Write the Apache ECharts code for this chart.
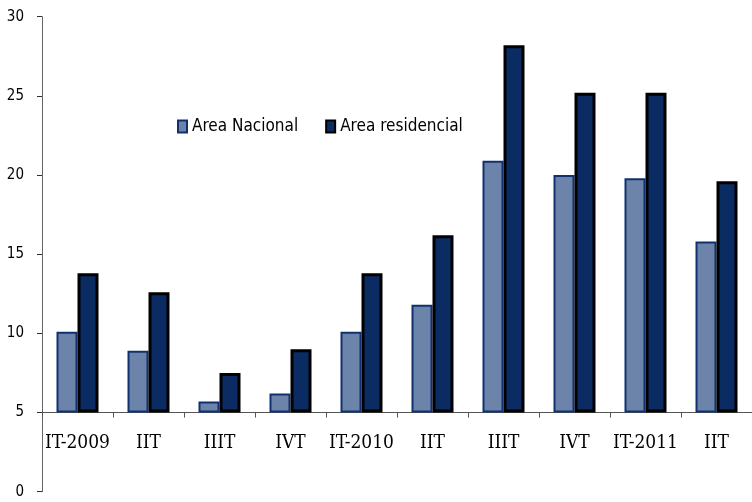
<!DOCTYPE html>
<html><head><meta charset="utf-8">
<script src="https://cdn.jsdelivr.net/npm/echarts@6/dist/echarts.min.js"></script>
<style>html,body{margin:0;padding:0;background:#fff}#c{width:752px;height:502px}</style>
</head><body><div id="c"></div>
<script>
const categories = ['IT-2009','IIT','IIIT','IVT','IT-2010','IIT','IIIT','IVT','IT-2011','IIT'];
const areaNacional = [10.1, 8.9, 5.7, 6.2, 10.1, 11.8, 20.9, 20.0, 19.8, 15.8];
const areaResidencial = [13.8, 12.6, 7.5, 9.0, 13.8, 16.2, 28.2, 25.2, 25.2, 19.6];
const baseline = 5;
const yTicks = [0, 5, 10, 15, 20, 25, 30];

const sansC = "'DejaVu Sans Condensed','DejaVu Sans',sans-serif";
const serifC = "'DejaVu Serif Condensed','DejaVu Serif',serif";
const gridTop = 16.7, gridBottom = 10.3, H = 502;
const gridH = H - gridTop - gridBottom;
const yMin = yTicks[0], yMax = yTicks[yTicks.length - 1];
const axisOffset = -gridH * (baseline - yMin) / (yMax - yMin);

const chart = echarts.init(document.getElementById('c'), null, {renderer: 'canvas'});
const base = categories.map(() => baseline);
chart.setOption({
  animation: false,
  grid: {left: 42, right: 0, top: gridTop, bottom: gridBottom, containLabel: false},
  legend: {
    data: ['Area Nacional', 'Area residencial'],
    left: 172, top: 113, icon: 'rect', itemWidth: 9, itemHeight: 12, itemGap: 27,
    textStyle: {fontFamily: sansC, fontSize: 17, color: '#000'},
    itemStyle: {borderWidth: 2}
  },
  xAxis: {
    type: 'category', data: categories, offset: axisOffset,
    axisLine: {onZero: false, lineStyle: {color: '#555', width: 1}},
    axisTick: {show: true, length: 5, lineStyle: {color: '#555'}},
    axisLabel: {fontFamily: serifC, fontSize: 19, color: '#000', margin: 21, interval: 0}
  },
  yAxis: {
    type: 'value', min: yMin, max: yMax, interval: 5,
    splitLine: {show: false},
    axisLine: {show: true, lineStyle: {color: '#666', width: 1}},
    axisTick: {show: true, length: 5, lineStyle: {color: '#333'}},
    axisLabel: {fontFamily: sansC, fontSize: 15, color: '#000', margin: 18}
  },
  series: [
    {name: 'baseN', type: 'bar', stack: 'n', data: base, barWidth: 21, barGap: '0%',
     itemStyle: {color: 'transparent'}, silent: true},
    {name: 'Area Nacional', type: 'bar', stack: 'n', barWidth: 21, barGap: '0%',
     data: areaNacional.map(v => +(v - baseline).toFixed(2)),
     itemStyle: {color: '#6d84aa', borderColor: '#103070', borderWidth: 2}},
    {name: 'baseR', type: 'bar', stack: 'r', data: base, barWidth: 21, barGap: '0%',
     itemStyle: {color: 'transparent'}, silent: true},
    {name: 'Area residencial', type: 'bar', stack: 'r', barWidth: 21, barGap: '0%',
     data: areaResidencial.map(v => +(v - baseline).toFixed(2)),
     itemStyle: {color: '#0b2b63', borderColor: '#000', borderWidth: 3}}
  ]
});
</script></body></html>
